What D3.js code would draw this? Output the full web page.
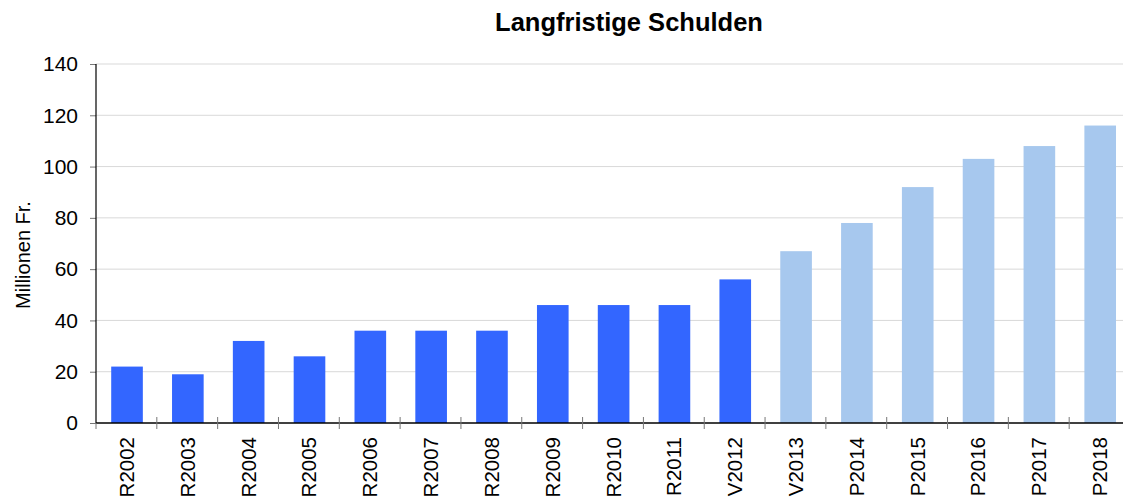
<!DOCTYPE html>
<html>
<head>
<meta charset="utf-8">
<script src="https://cdn.jsdelivr.net/npm/d3@7"></script>
<style>
  body { margin: 0; background: #fff; }
  text { font-family: "Liberation Sans", Arial, sans-serif; }
</style>
</head>
<body>
<script>
var categories = ["R2002","R2003","R2004","R2005","R2006","R2007","R2008","R2009","R2010","R2011","V2012","V2013","P2014","P2015","P2016","P2017","P2018"];
var values = [22, 19, 32, 26, 36, 36, 36, 46, 46, 46, 56, 67, 78, 92, 103, 108, 116];
// actuals (R, V2012) dark, forecasts light
var kinds = ["past","past","past","past","past","past","past","past","past","past","past","plan","plan","plan","plan","plan","plan"];
var yTicks = [0, 20, 40, 60, 80, 100, 120, 140];

var WIDTH = 1123, HEIGHT = 499;
var LEFT = 96, RIGHT = 1130, TOP = 64, BOTTOM = 423;

var svg = d3.select("body").append("svg")
    .attr("width", WIDTH)
    .attr("height", HEIGHT);

var band = d3.scaleBand().domain(categories).range([LEFT, RIGHT]);
var yScale = d3.scaleLinear().domain([0, 140]).range([BOTTOM, TOP]);

// grid
svg.append("g").selectAll("line").data(yTicks.slice(1)).enter().append("line")
    .attr("x1", LEFT).attr("x2", WIDTH)
    .attr("y1", function(d){return yScale(d)}).attr("y2", function(d){return yScale(d)})
    .attr("stroke", "#d9d9d9").attr("stroke-width", 1);

// bars
svg.append("g").selectAll("rect").data(values).enter().append("rect")
    .attr("x", function(d,i){return band(categories[i]) + band.bandwidth()*0.25})
    .attr("width", band.bandwidth()*0.52)
    .attr("y", function(d){return yScale(d)})
    .attr("height", function(d){return BOTTOM - yScale(d)})
    .attr("fill", function(d,i){return kinds[i]=="past" ? "#3366ff" : "#a7c8ee"});

// y axis
var yAxis = d3.axisLeft(yScale).tickValues(yTicks).tickSize(6).tickPadding(12);
var gy = svg.append("g").attr("transform", "translate(" + LEFT + ",0)").call(yAxis);
gy.select(".domain").remove();
gy.selectAll(".tick line").attr("stroke", "#777");
gy.selectAll("text").style("font-size", "21px").attr("fill", "#000");
svg.append("line").attr("x1", LEFT).attr("x2", LEFT).attr("y1", TOP).attr("y2", BOTTOM)
    .attr("stroke", "#000").attr("stroke-width", 1.2);

// x axis
svg.append("line").attr("x1", LEFT).attr("x2", WIDTH).attr("y1", BOTTOM).attr("y2", BOTTOM)
    .attr("stroke", "#000").attr("stroke-width", 1.5);
svg.append("g").selectAll("line").data(categories).enter().append("line")
    .attr("x1", function(d){return band(d)}).attr("x2", function(d){return band(d)})
    .attr("y1", function(d,i){return i==0 ? BOTTOM : BOTTOM-6}).attr("y2", BOTTOM+6)
    .attr("stroke", "#777");
svg.append("g").selectAll("text").data(categories).enter().append("text")
    .attr("transform", function(d){return "translate(" + (band(d) + band.bandwidth()/2 + 7.5) + "," + (BOTTOM+14) + ") rotate(-90)"})
    .attr("text-anchor", "end")
    .style("font-size", "20.5px")
    .text(function(d){return d});

// titles
svg.append("text").attr("x", 629).attr("y", 31).attr("text-anchor", "middle")
    .style("font-size", "25.5px").style("font-weight", "bold").text("Langfristige Schulden");
svg.append("text").attr("transform", "translate(30,255) rotate(-90)").attr("text-anchor", "middle")
    .style("font-size", "20px").text("Millionen Fr.");
</script>
</body>
</html>
